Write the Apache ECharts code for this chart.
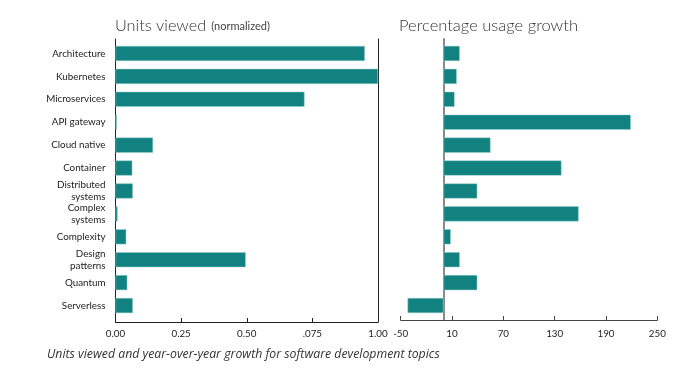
<!DOCTYPE html>
<html>
<head>
<meta charset="utf-8">
<script src="https://cdn.jsdelivr.net/npm/echarts@6/dist/echarts.min.js"></script>
<style>
  html, body { margin: 0; padding: 0; background: #fff; }
  #main { width: 693px; height: 377px; }
</style>
</head>
<body>
<div id="main"></div>
<script>
// topics, top to bottom
var topics = ['Architecture', 'Kubernetes', 'Microservices', 'API gateway', 'Cloud native', 'Container',
    'Distributed\nsystems', 'Complex\nsystems', 'Complexity', 'Design\npatterns', 'Quantum', 'Serverless'];
// units viewed (normalized)
var unitsViewed = [0.95, 1.0, 0.72, 0.005, 0.143, 0.064, 0.066, 0.008, 0.041, 0.496, 0.045, 0.066];
// percentage usage growth
var usageGrowth = [19, 15.5, 13, 219, 55, 138, 39.5, 158, 8.5, 19, 39.5, -42];
// tick labels as printed
var leftTicks = ['0.00', '0.25', '0.50', '.075', '1.00'];

var teal = '#11827f';
var font = 'Lato, "Noto Sans", sans-serif';

var chart = echarts.init(document.getElementById('main'));

var option = {
    backgroundColor: '#fff',
    animation: false,
    title: [{
        text: '{big|Units viewed} {small|(normalized)}',
        left: 110, top: 12,
        textStyle: {
            rich: {
                big: { fontSize: 16.3, fontFamily: font, fontWeight: 300, color: '#333' },
                small: { fontSize: 11, fontFamily: font, fontWeight: 'normal', color: '#444' }
            }
        }
    }, {
        text: 'Percentage usage growth',
        left: 394, top: 12,
        textStyle: { fontSize: 16.5, fontFamily: font, fontWeight: 300, color: '#333' }
    }, {
        text: 'Units viewed and year-over-year growth for software development topics',
        left: 42, top: 343,
        textStyle: { fontSize: 12.3, fontFamily: '"Open Sans", sans-serif', fontStyle: 'italic', fontWeight: 'normal', color: '#333' }
    }],
    grid: [
        // bars
        { left: 115.5, width: 262.5, top: 42, height: 275 },
        { left: 400.7, width: 256.6, top: 42, height: 275 },
        // frames
        { left: 115.5, width: 262.5, top: 39, height: 283 },
        { left: 400.7, width: 256.6, top: 39, height: 281 }
    ],
    xAxis: [
        { gridIndex: 0, type: 'value', min: 0, max: 1, show: false },
        { gridIndex: 1, type: 'value', min: -50, max: 250, show: false },
        {
            gridIndex: 2, type: 'value', min: 0, max: 1, interval: 0.25,
            axisLine: { show: true, lineStyle: { color: '#222', width: 1 } },
            axisTick: { show: true, inside: true, length: 4, lineStyle: { color: '#222' } },
            axisLabel: {
                color: '#222', fontSize: 9.8, fontFamily: font, margin: 7,
                formatter: function (v) { return leftTicks[Math.round(v / 0.25)]; }
            },
            splitLine: { show: false }
        },
        {
            gridIndex: 3, type: 'value', min: -50, max: 250, interval: 60,
            axisLine: { show: true, onZero: false, lineStyle: { color: '#444', width: 1 } },
            axisTick: { show: true, inside: true, length: 4, lineStyle: { color: '#444' } },
            axisLabel: { color: '#222', fontSize: 9.8, fontFamily: font, margin: 9 },
            splitLine: { show: false }
        }
    ],
    yAxis: [
        {
            gridIndex: 0, type: 'category', data: topics, inverse: true,
            axisLine: { show: false }, axisTick: { show: false },
            axisLabel: { color: '#222', fontSize: 9.8, fontFamily: font, margin: 10, lineHeight: 12, align: 'right' }
        },
        {
            gridIndex: 1, type: 'category', data: topics, inverse: true,
            axisLine: { show: false }, axisTick: { show: false }, axisLabel: { show: false }
        },
        {
            gridIndex: 2, type: 'value', position: 'left',
            axisLine: { show: true, onZero: false, lineStyle: { color: '#222', width: 1 } },
            axisTick: { show: false }, axisLabel: { show: false }, splitLine: { show: false }
        },
        {
            gridIndex: 2, type: 'value', position: 'right',
            axisLine: { show: true, onZero: false, lineStyle: { color: '#222', width: 1 } },
            axisTick: { show: false }, axisLabel: { show: false }, splitLine: { show: false }
        },
        {
            gridIndex: 3, type: 'value',
            axisLine: { show: true, onZero: true, lineStyle: { color: '#8a8a8a', width: 2 } },
            axisTick: { show: false }, axisLabel: { show: false }, splitLine: { show: false }
        }
    ],
    series: [{
        name: 'Units viewed',
        type: 'bar',
        xAxisIndex: 0, yAxisIndex: 0,
        barCategoryGap: '34%',
        itemStyle: { color: teal, borderColor: '#9ad3d0', borderWidth: 0.5 },
        data: unitsViewed,
        z: 1
    }, {
        name: 'Usage growth',
        type: 'bar',
        xAxisIndex: 1, yAxisIndex: 1,
        barCategoryGap: '34%',
        itemStyle: { color: teal, borderColor: '#9ad3d0', borderWidth: 0.5 },
        data: usageGrowth,
        z: 1
    }]
};

chart.setOption(option);
</script>
</body>
</html>
